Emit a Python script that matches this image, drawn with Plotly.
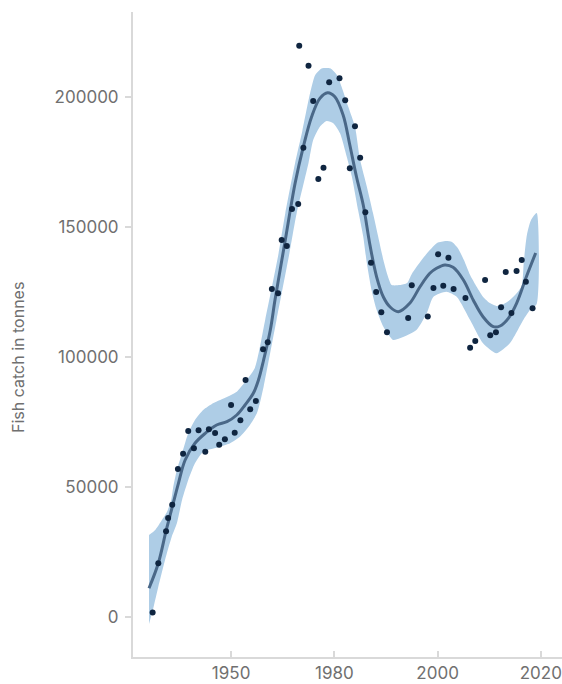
import plotly.graph_objects as go

# Observed catches (year, tonnes)
obs_year = [1944.8, 1945.9, 1947.4, 1947.8, 1948.6, 1949.7, 1950.7, 1951.7, 1952.8, 1953.7,
            1955.0, 1955.7, 1956.9, 1957.7, 1958.8, 1960.0, 1960.7, 1961.8, 1962.8, 1963.7,
            1964.8, 1966.2, 1967.1, 1967.9, 1969.1, 1969.8, 1970.8, 1971.8, 1973.0, 1974.0,
            1973.2, 1975.0, 1975.9, 1976.9, 1977.9, 1979.0, 1981.0, 1982.1, 1983.0, 1984.0,
            1985.0, 1986.0, 1987.1, 1988.1, 1989.1, 1990.2, 1994.3, 1995.0, 1998.1, 1999.2,
            2000.1, 2001.1, 2002.1, 2003.1, 2005.4, 2006.3, 2007.3, 2009.2, 2010.2, 2011.3,
            2012.3, 2013.2, 2014.3, 2015.3, 2016.3, 2017.1, 2018.4]
obs_catch = [1700, 20650, 32960, 38080, 43190, 56920, 62800, 71540, 64880, 71800,
             63570, 72190, 70770, 66270, 68340, 81540, 70880, 75650, 91150, 79880,
             83070, 102960, 105650, 126150, 124490, 145000, 142690, 156920, 158840, 180490,
             219720, 212030, 198450, 168450, 172800, 205650, 207180, 198720, 172610, 188720,
             176610, 155680, 136230, 124960, 117190, 109500, 115000, 127570, 115570, 126530,
             139490, 127380, 138190, 126150, 122690, 103570, 106150, 129610, 108380, 109500,
             119150, 132690, 116920, 133070, 137300, 128960, 118730]

# Smoothed trend
fit_year = [1944.1, 1945.9, 1947.4, 1948.7, 1949.8, 1951.1, 1953.0, 1955.0, 1957.2, 1959.2,
            1961.1, 1962.7, 1964.3, 1965.3, 1966.3, 1967.6, 1968.5, 1969.5, 1970.5, 1972.4,
            1974.0, 1975.6, 1977.2, 1978.7, 1980.1, 1981.7, 1983.0, 1984.3, 1985.6, 1986.9,
            1988.2, 1989.5, 1990.8, 1992.4, 1994.6, 1996.6, 1998.5, 1999.8, 2001.4, 2003.0,
            2005.0, 2006.9, 2008.8, 2010.8, 2012.1, 2013.7, 2015.3, 2017.2, 2019.0]
fit_catch = [11040, 20650, 33080, 43080, 51420, 60380, 66810, 70650, 73840, 75110,
             77690, 81540, 86040, 91150, 98840, 110380, 121920, 133460, 145000, 166800,
             180880, 192420, 199490, 201650, 200110, 193070, 181530, 169220, 158450, 143070,
             130760, 123070, 119220, 117420, 120650, 127030, 132190, 134110, 135380, 134490,
             129610, 121920, 115490, 111650, 111920, 114880, 120650, 130880, 140000]

# Confidence band, upper edge
hi_year = [1944.1, 1945.3, 1946.6, 1947.6, 1948.4, 1948.8, 1949.5, 1950.5, 1951.7, 1953.0,
           1954.6, 1956.6, 1959.2, 1961.1, 1962.7, 1964.6, 1966.6, 1969.2, 1970.5, 1972.4,
           1973.8, 1975.3, 1976.3, 1977.6, 1979.2, 1980.5, 1981.4, 1982.7, 1984.0, 1985.0,
           1986.3, 1987.5, 1988.5, 1989.5, 1990.4, 1991.1, 1992.7, 1994.1, 1995.0, 1997.2,
           1999.9, 2001.6, 2002.8, 2003.9, 2005.1, 2006.3, 2007.6, 2008.8, 2010.1, 2011.5,
           2012.8, 2014.0, 2015.2, 2016.3, 2016.7, 2017.3, 2018.1, 2019.2]
hi_catch = [31540, 33460, 37310, 40500, 45000, 50110, 56540, 62960, 70650, 75770,
            79610, 82300, 84610, 86650, 90380, 95770, 114230, 139880, 155260, 174610,
            186900, 201420, 208450, 211030, 211030, 208450, 203950, 196260, 188570, 175730,
            165490, 155260, 146260, 137300, 130880, 127690, 127690, 128460, 131920, 138070,
            143840, 144610, 144230, 141920, 137300, 131530, 126920, 123190, 120760, 119610,
            120380, 121920, 124230, 127300, 136530, 146920, 152690, 155380]

# Confidence band, lower edge
lo_year = [1944.1, 1945.0, 1945.9, 1947.2, 1948.5, 1949.5, 1950.5, 1951.7, 1953.0, 1954.6,
           1957.9, 1959.8, 1961.7, 1963.4, 1965.0, 1966.3, 1968.8, 1971.3, 1972.7, 1975.0,
           1975.9, 1977.2, 1978.5, 1979.8, 1981.1, 1982.4, 1983.4, 1984.6, 1985.6, 1986.3,
           1987.2, 1988.2, 1989.5, 1991.4, 1992.7, 1995.9, 1997.9, 1999.2, 2001.7, 2003.7,
           2006.3, 2008.8, 2011.4, 2014.0, 2016.6, 2017.9, 2019.2]
lo_catch = [-2690, 3960, 11650, 21920, 30880, 36040, 45000, 52690, 59110, 63570,
            65500, 66800, 69340, 73190, 78340, 88570, 114230, 139880, 155260, 174610,
            183450, 188570, 190760, 189880, 186030, 177030, 169340, 156530, 146260, 136030,
            125760, 118070, 111650, 106530, 107190, 110380, 116800, 123190, 125110, 123190,
            114230, 105260, 101420, 105260, 114230, 118070, 120380]

tick_vals = [1960, 1980, 2000, 2020]
tick_text = ["1950", "1980", "2000", "2020"]
y_ticks = [0, 50000, 100000, 150000, 200000]
y_title = "Fish catch in tonnes"

axis_col = "#d9d9d9"
text_col = "#707070"
font_fam = "Inter, Roboto, sans-serif"

fig = go.Figure()
fig.add_trace(go.Scatter(
    x=hi_year + lo_year[::-1], y=hi_catch + lo_catch[::-1],
    fill="toself", fillcolor="#aecde6", mode="lines",
    line=dict(width=0, shape="spline", smoothing=0.6),
    hoverinfo="skip", showlegend=False))
fig.add_trace(go.Scatter(
    x=fit_year, y=fit_catch, mode="lines",
    line=dict(color="#4a6888", width=3, shape="spline"),
    showlegend=False))
fig.add_trace(go.Scatter(
    x=obs_year, y=obs_catch, mode="markers",
    marker=dict(color="#0f2540", size=6),
    showlegend=False))

fig.add_annotation(text=y_title, xref="paper", yref="paper", x=-0.268, y=0.4636,
                   xanchor="center", yanchor="middle", textangle=-90, showarrow=False,
                   font=dict(size=16, color=text_col, family=font_fam))

fig.update_layout(
    width=562, height=684,
    margin=dict(l=133, r=0, t=12, b=27, autoexpand=False),
    paper_bgcolor="white", plot_bgcolor="white",
    font=dict(family=font_fam, color=text_col, size=17),
    xaxis=dict(range=[1941.0, 2024.1], tickvals=tick_vals, ticktext=tick_text,
               showgrid=False, zeroline=False, showline=True, linecolor=axis_col,
               linewidth=2, ticks="inside", ticklen=6, tickwidth=2, tickcolor=axis_col,
               tickfont=dict(size=17, color=text_col), automargin=False,
               ticklabelstandoff=0),
    yaxis=dict(range=[-15400, 232700], tickvals=y_ticks, tickformat="d",
               showgrid=False, zeroline=False, showline=True, linecolor=axis_col,
               linewidth=2, ticks="outside", ticklen=6, tickwidth=2, tickcolor=axis_col,
               tickfont=dict(size=17, color=text_col), automargin=False,
               ticklabelstandoff=3),
)
# remove the default page margin so the figure fills the window exactly
fig.write_html("out.html",
               config={"displayModeBar": False},
               post_script="document.body.style.margin='0';"
                           "document.body.style.overflow='hidden';")
